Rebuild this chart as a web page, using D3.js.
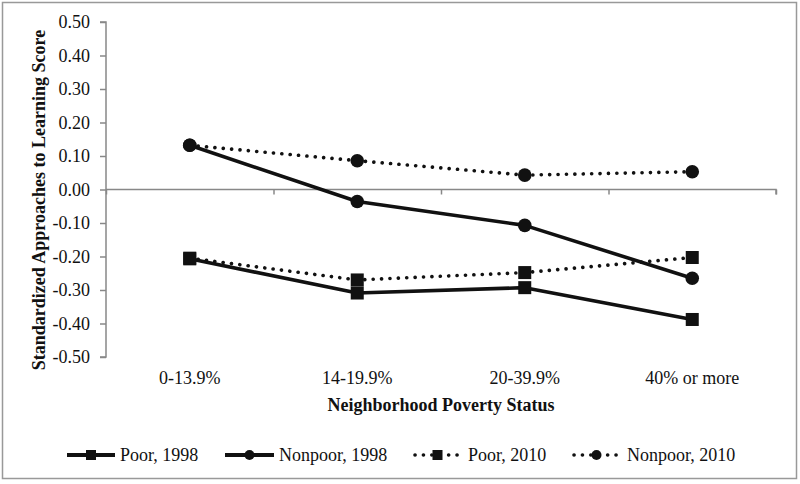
<!DOCTYPE html>
<html>
<head>
<meta charset="utf-8">
<script src="https://cdn.jsdelivr.net/npm/d3@7/dist/d3.min.js"></script>
</head>
<body style="margin:0;background:#fff">
<svg id="chart" width="800" height="484" style="display:block"></svg>
<script>
const categories = ["0-13.9%", "14-19.9%", "20-39.9%", "40% or more"];
const poor1998    = [-0.207, -0.309, -0.293, -0.388];
const nonpoor1998 = [0.132, -0.036, -0.107, -0.265];
const poor2010    = [-0.205, -0.270, -0.248, -0.203];
const nonpoor2010 = [0.132, 0.086, 0.043, 0.053];
const yTicks = [-0.5, -0.4, -0.3, -0.2, -0.1, 0, 0.1, 0.2, 0.3, 0.4, 0.5];
const seriesNames = ["Poor, 1998", "Nonpoor, 1998", "Poor, 2010", "Nonpoor, 2010"];

const series = [
  { name: seriesNames[0], values: poor1998, marker: "square", dotted: false },
  { name: seriesNames[1], values: nonpoor1998, marker: "circle", dotted: false },
  { name: seriesNames[2], values: poor2010, marker: "square", dotted: true },
  { name: seriesNames[3], values: nonpoor2010, marker: "circle", dotted: true }
];

const FONT = "'Liberation Serif', Tinos, 'Times New Roman', Times, serif";
const svg = d3.select("#chart");
const axisColor = "#888";
const ink = "#111";

function setFont(sel, size, bold) {
  sel.style("font-family", FONT).style("font-size", size + "px")
    .style("font-weight", bold ? "bold" : "normal").attr("fill", ink);
  return sel;
}

// Outer border
svg.append("rect").attr("x", 2.5).attr("y", 2.5).attr("width", 794).attr("height", 476)
  .attr("fill", "#fff").attr("stroke", "#999").attr("stroke-width", 1.5);

const plot = { left: 106, right: 776, top: 22, bottom: 357 };

const x = d3.scaleBand().domain(categories).range([plot.left, plot.right]).padding(0);
const y = d3.scaleLinear().domain([-0.5, 0.5]).range([plot.bottom, plot.top]);

// Y axis
const fmt = v => d3.format(".2f")(v).replace("\u2212", "-");
const yAxis = svg.append("g").attr("transform", `translate(${plot.left},0)`)
  .call(d3.axisLeft(y).tickValues(yTicks).tickFormat(fmt).tickSize(6).tickPadding(10));
yAxis.attr("font-family", null).attr("font-size", null);
yAxis.selectAll("path, line").attr("stroke", axisColor).attr("stroke-width", 1.5);
yAxis.select(".domain").attr("d", `M-6,${plot.top}H0V${plot.bottom}H-6`);
setFont(yAxis.selectAll("text"), 18, false);

// X axis line at zero with boundary ticks
const xb = d3.scaleLinear().domain([0, categories.length]).range([plot.left, plot.right]);
const xAxis0 = svg.append("g").attr("transform", `translate(0,${y(0)})`)
  .call(d3.axisBottom(xb).tickValues(d3.range(0, categories.length + 1)).tickSize(5).tickFormat(""));
xAxis0.selectAll("path, line").attr("stroke", axisColor).attr("stroke-width", 1.5);
xAxis0.select(".domain").attr("d", `M${plot.left},0H${plot.right}V5`);

// Category labels at bottom
const xLab = svg.append("g").attr("transform", `translate(0,${plot.bottom})`)
  .call(d3.axisBottom(x).tickSize(0).tickPadding(14));
xLab.attr("font-family", null).attr("font-size", null);
xLab.select(".domain").remove();
setFont(xLab.selectAll("text"), 18, false);

// Axis titles
setFont(svg.append("text").attr("x", 441).attr("y", 411).attr("text-anchor", "middle"), 18, true)
  .text("Neighborhood Poverty Status");
setFont(svg.append("text").attr("transform", `translate(45,200) rotate(-90)`).attr("text-anchor", "middle"), 18, true)
  .text("Standardized Approaches to Learning Score");

// Lines
const line = d3.line().x((d, i) => x(categories[i]) + x.bandwidth() / 2).y(d => y(d));
function styleLine(sel, dotted, w) {
  sel.attr("fill", "none").attr("stroke", ink).attr("stroke-width", dotted ? 3.6 : w)
    .attr("stroke-linecap", dotted ? "round" : "butt").attr("stroke-linejoin", "round");
  if (dotted) sel.attr("stroke-dasharray", "0.1 8.3");
}
function drawMarker(g, type, cx, cy, size) {
  if (type === "square") {
    g.append("rect").attr("x", cx - size / 2).attr("y", cy - size / 2)
      .attr("width", size).attr("height", size).attr("fill", ink);
  } else {
    g.append("circle").attr("cx", cx).attr("cy", cy).attr("r", size / 2).attr("fill", ink);
  }
}

series.forEach(s => {
  const g = svg.append("g");
  styleLine(g.append("path").datum(s.values).attr("d", line), s.dotted, 3.6);
  s.values.forEach((v, i) => {
    drawMarker(g, s.marker, x(categories[i]) + x.bandwidth() / 2, y(v), s.marker === "square" ? 13 : 13.6);
  });
});

// Legend
const legendItems = [
  { x0: 67, x1: 115, tx: 120 },
  { x0: 225, x1: 274, tx: 279 },
  { x0: 415, x1: 460, tx: 468 },
  { x0: 574, x1: 619, tx: 627 }
];
const ly = 455;
series.forEach((s, i) => {
  const L = legendItems[i];
  const g = svg.append("g");
  const p = g.append("path").attr("d", `M${L.x0},${ly}H${L.x1}`);
  styleLine(p, s.dotted, 4);
  drawMarker(g, s.marker, (L.x0 + L.x1) / 2, ly, 10);
  setFont(g.append("text").attr("x", L.tx).attr("y", ly).attr("dy", "0.35em"), 18, false).text(s.name);
});
</script>
</body>
</html>
